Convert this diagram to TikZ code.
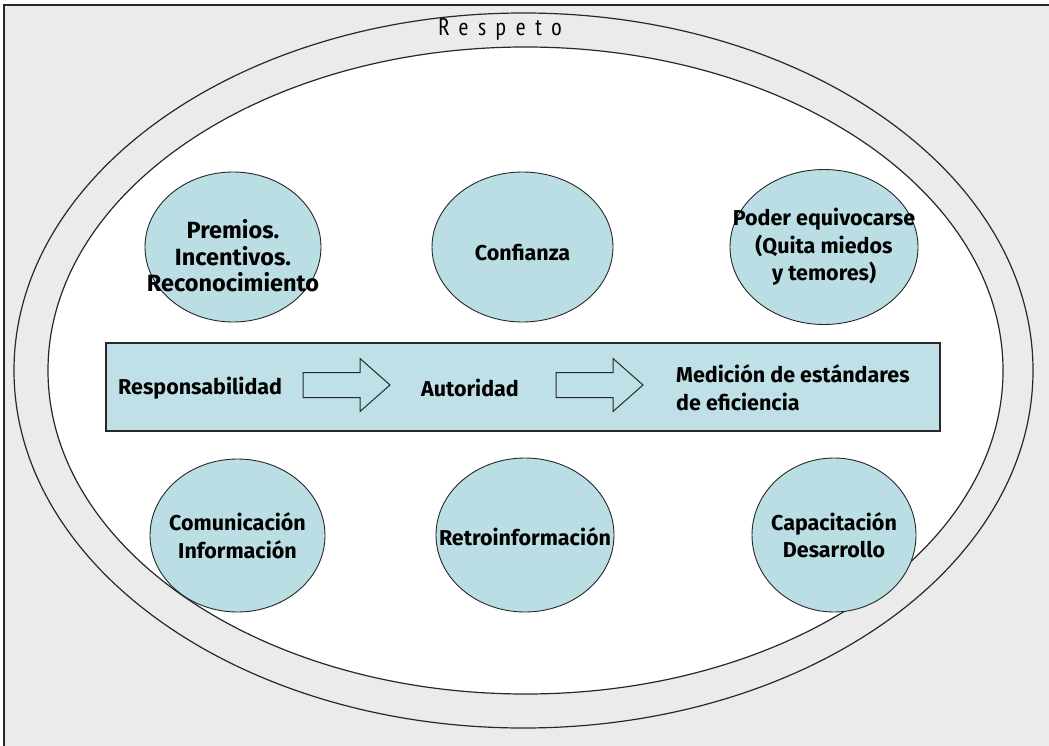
\documentclass[tikz,border=0pt]{standalone}
\usepackage{fontspec}
\setmainfont{Fira Sans}
\newfontfamily\ringfont[LetterSpace=40]{PT Sans Narrow}
\usetikzlibrary{shapes.geometric}
\definecolor{paper}{RGB}{235,235,235}
\definecolor{bubble}{RGB}{187,222,228}
\definecolor{band}{RGB}{190,224,230}
\definecolor{ink}{RGB}{40,40,40}
\tikzset{
  ring/.style={draw=ink, line width=1.2pt},
  bubblenode/.style={ellipse, draw=ink, line width=0.9pt, fill=bubble, inner sep=0pt},
  bubbletext/.style={inner sep=0pt, align=center,
    font=\bfseries\fontsize{21.5}{27.5}\selectfont},
  bandtext/.style={font=\bfseries\fontsize{21.5}{28}\selectfont, inner sep=0pt},
  blockarrow/.style={draw=ink, line width=1pt, fill=band, line join=miter},
}
\begin{document}
\begin{tikzpicture}[x=1pt, y=-1pt]
  \useasboundingbox (0,0) rectangle (1049,746);
  \clip (0,0) rectangle (1049,746);
  % sheet
  \fill[white] (0,0) rectangle (1049,746);
  \draw[ink, line width=1.2pt, fill=paper] (4,5) rectangle (1060,760);
  % the two rings of "Respeto"
  \draw[ring, fill=paper] (523.5,370.5) ellipse [x radius=509.5, y radius=357.5];
  \draw[ring, fill=white] (525.5,370.5) ellipse [x radius=477.5, y radius=323.5];
  \node[font=\ringfont\fontsize{24}{26}\selectfont] (respeto) at (500,29) {Respeto};
  % upper bubbles
  \node[bubblenode, minimum width=176pt, minimum height=150pt] (premios) at (233,247) {};
  \node[bubbletext, font=\bfseries\fontsize{23.5}{26.5}\selectfont]
    (premiostxt) at ([yshift=-9pt]premios.center) {Premios.\\Incentivos.\\Reconocimiento};
  \node[bubblenode, minimum width=181pt, minimum height=150pt] (confianza) at (522.5,247) {};
  \node[bubbletext] (confianzatxt) at ([yshift=-6pt]confianza.center) {Confianza};
  \node[bubblenode, minimum width=188pt, minimum height=155pt] (poder) at (824,247) {};
  \node[bubbletext] (podertxt) at (poder.center)
    {Poder equivocarse\\(Quita miedos\\y temores)};
  % central band
  \node[draw=ink, line width=1.4pt, fill=band, minimum width=834pt, minimum height=88pt,
    inner sep=0pt] (bandbox) at (523,387) {};
  \node[bandtext, anchor=west] (resp) at (118,388) {Responsabilidad};
  \node[bandtext] (autoridad) at (470,388) {Autoridad};
  \node[bandtext, anchor=west, align=left] (medicion) at (676,388)
    {Medición de estándares\\de eficiencia};
  % block arrows between the band texts
  \coordinate (a1) at (303,385);
  \coordinate (a2) at (556,385);
  \foreach \c in {a1,a2}{
    \draw[blockarrow] (\c) ++(0,-12.5) -- ++(57,0) -- ++(0,-14) -- ++(30,26.5)
      -- ++(-30,26.5) -- ++(0,-14) -- ++(-57,0) -- cycle;
  }
  % lower bubbles
  \node[bubblenode, minimum width=175pt, minimum height=153pt] (comunicacion) at (237.5,535.5) {};
  \node[bubbletext] (comunicaciontxt) at (comunicacion.center) {Comunicación\\Información};
  \node[bubblenode, minimum width=178pt, minimum height=154pt] (retro) at (525,535) {};
  \node[bubbletext] (retrotxt) at ([yshift=-2pt]retro.center) {Retroinformación};
  \node[bubblenode, minimum width=164pt, minimum height=154pt] (capacitacion) at (834,535) {};
  \node[bubbletext] (capacitaciontxt) at (capacitacion.center) {Capacitación\\Desarrollo};
\end{tikzpicture}
\end{document}
